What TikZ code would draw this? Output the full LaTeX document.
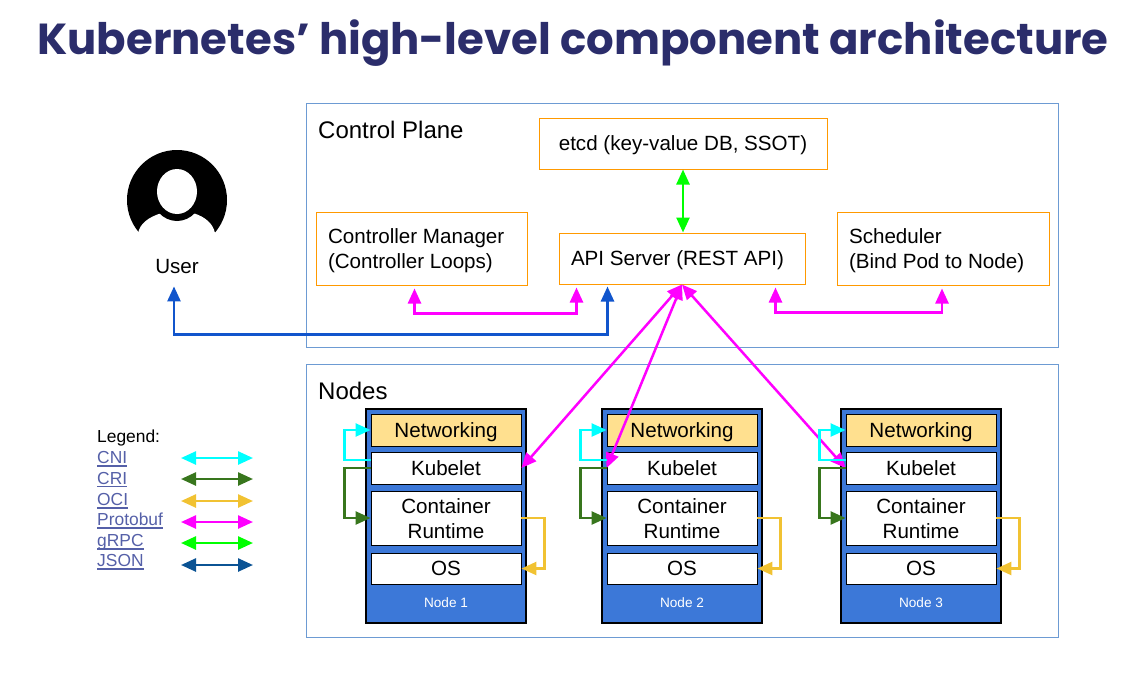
\documentclass[tikz,border=0pt]{standalone}
\usepackage{fontspec}
\setmainfont{Liberation Sans}
\newfontfamily\titlefont{Poppins}
\usetikzlibrary{arrows.meta}
\definecolor{titleblue}{HTML}{2B2D6B}
\definecolor{planeblue}{HTML}{6D9BD3}
\definecolor{boxorange}{HTML}{FF9900}
\definecolor{nodeblue}{HTML}{3C78D8}
\definecolor{netyellow}{HTML}{FFE08F}
\definecolor{linkblue}{HTML}{5560A8}
\definecolor{cnicyan}{HTML}{00FFFF}
\definecolor{crigreen}{HTML}{38761D}
\definecolor{ociyellow}{HTML}{F1C232}
\definecolor{protomagenta}{HTML}{FF00FF}
\definecolor{grpcgreen}{HTML}{00FF00}
\definecolor{userblue}{HTML}{1155CC}
\definecolor{jsonblue}{HTML}{0B5394}
\newcommand{\linktext}[1]{\setbox0=\hbox{#1}\rlap{\rule[-3pt]{\wd0}{1.5pt}}\box0}
\tikzset{
  plane/.style={
    % The shape:
    rectangle,minimum width=752pt,
    % The border:
    draw=planeblue,line width=1pt},
  label/.style={anchor=west,inner sep=0pt,font=\fontsize{24}{28}\selectfont},
  cpbox/.style={
    rectangle,draw=boxorange,line width=1pt,fill=white,
    inner xsep=12pt,inner ysep=0pt,minimum height=51pt,
    font=\fontsize{20.6}{25}\selectfont},
  twoline/.style={text width=#1,align=flush left,minimum height=73pt},
  oneline/.style={text height=13pt,text depth=0pt},
  worker/.style={
    rectangle,draw=black,line width=1.3pt,fill=nodeblue,
    minimum width=160pt,minimum height=214pt},
  stage/.style={
    rectangle,draw=black,line width=0.9pt,fill=white,inner sep=0pt,
    minimum width=150pt,align=center,
    font=\fontsize{20.6}{25}\selectfont},
  nodename/.style={inner sep=0pt,text=white,font=\fontsize{13.6}{16}\selectfont},
  legendname/.style={anchor=west,inner sep=0pt,text height=12.5pt,text depth=0pt,font=\fontsize{17.4}{20}\selectfont},
  legendlink/.style={legendname,text=linkblue},
  conn/.style={line width=2.5pt,{Triangle[length=15pt,width=13pt]}-{Triangle[length=15pt,width=13pt]}},
  oneway/.style={line width=2.5pt,-{Triangle[length=15pt,width=13pt]}}
}

\begin{document}
\begin{tikzpicture}[x=1pt,y=-1pt]
	\useasboundingbox (0,0) rectangle (1134,683);
	\node[inner sep=0pt,text=titleblue,font=\titlefont\bfseries\fontsize{43.4}{50}\selectfont] (title) at (573,43) {Kubernetes’ high-level component architecture};
	% User
	\fill (177,200) circle (50);
	\fill[white] (138,233) .. controls (140,224) and (148,217) .. (162,213) -- (193,213) .. controls (206,217) and (213,224) .. (215,233) -- (220,255) -- (133,255) -- cycle;
	\fill (177,192) ellipse (26 and 29);
	\fill[white] (177,191.5) ellipse (20 and 22.5);
	\node[inner sep=0pt,font=\fontsize{20.6}{25}\selectfont] (user) at (177,267) {User};
	% Control plane
	\node[plane,minimum height=244pt] (cp) at (682,225) {};
	\node[label] (cplabel) at (318,130) {Control Plane};
	\node[cpbox,oneline,minimum width=288pt] (etcd) at (683,143.5) {etcd (key-value DB, SSOT)};
	\node[cpbox,twoline=187pt] (ctrl) at (421.5,248.5) {\rule{0pt}{19pt}Controller Manager\\(Controller Loops)};
	\node[cpbox,oneline,text width=222pt,align=flush left] (api) at (682,258.5) {API Server (REST API)};
	\node[cpbox,twoline=188pt] (sched) at (943,248.5) {\rule{0pt}{19pt}Scheduler\\(Bind Pod to Node)};
	% Nodes
	\node[plane,minimum height=273pt] (nodes) at (682,500.5) {};
	\node[label] (nodeslabel) at (318,391) {Nodes};
	% Node 1
	\node[worker] (w1) at (446,516) {};
	\node[stage,fill=netyellow,text depth=0pt,minimum height=32pt] (net1) at (446,430) {Networking};
	\node[stage,minimum height=32pt] (kub1) at (446,468) {Kubelet};
	\node[stage,minimum height=54pt] (crt1) at (446,518) {\rule{0pt}{17pt}Container\\Runtime};
	\node[stage,minimum height=31pt] (os1) at (446,568.5) {OS};
	\node[nodename] (name1) at (446,603) {Node 1};
	% Node 2
	\node[worker] (w2) at (682,516) {};
	\node[stage,fill=netyellow,text depth=0pt,minimum height=32pt] (net2) at (682,430) {Networking};
	\node[stage,minimum height=32pt] (kub2) at (682,468) {Kubelet};
	\node[stage,minimum height=54pt] (crt2) at (682,518) {\rule{0pt}{17pt}Container\\Runtime};
	\node[stage,minimum height=31pt] (os2) at (682,568.5) {OS};
	\node[nodename] (name2) at (682,603) {Node 2};
	% Node 3
	\node[worker] (w3) at (921,516) {};
	\node[stage,fill=netyellow,text depth=0pt,minimum height=32pt] (net3) at (921,430) {Networking};
	\node[stage,minimum height=32pt] (kub3) at (921,468) {Kubelet};
	\node[stage,minimum height=54pt] (crt3) at (921,518) {\rule{0pt}{17pt}Container\\Runtime};
	\node[stage,minimum height=31pt] (os3) at (921,568.5) {OS};
	\node[nodename] (name3) at (921,603) {Node 3};
	% Lines inside the control plane
	\draw[conn,grpcgreen] (etcd.south) -- (etcd.south|-api.north);
	\draw[conn,protomagenta] ([xshift=-7pt,yshift=-3pt]ctrl.south) -- ++(0,25) -| ([xshift=18pt,yshift=-3pt]api.south west);
	\draw[conn,protomagenta] ([xshift=-30pt,yshift=-3pt]api.south east) -- ++(0,25) -| ([xshift=-1pt,yshift=-3pt]sched.south);
	\draw[conn,userblue] (user.south) ++(-3,12) -- ++(0,48) -| ([xshift=49pt,yshift=-2pt]api.south west);
	% Lines out of the API server
	\draw[conn,protomagenta] (api.south) -- (kub1.east);
	\draw[conn,protomagenta] (api.south) -- (kub2.west);
	\draw[conn,protomagenta] (api.south) -- (kub3.west);
	% Lines out of kubelet
	\draw[oneway,cnicyan] ([yshift=8pt]kub1.west) -- ++(-26,0) |- (net1.west);
	\draw[oneway,cnicyan] ([yshift=8pt]kub2.west) -- ++(-26,0) |- (net2.west);
	\draw[oneway,cnicyan] ([yshift=8pt]kub3.west) -- ++(-26,0) |- (net3.west);
	\draw[oneway,crigreen] (kub1.west) -- ++(-26,0) |- (crt1.west);
	\draw[oneway,crigreen] (kub2.west) -- ++(-26,0) |- (crt2.west);
	\draw[oneway,crigreen] (kub3.west) -- ++(-26,0) |- (crt3.west);
	% Lines out of container runtime
	\draw[oneway,ociyellow] (crt1.east) -- ++(23,0) |- (os1.east);
	\draw[oneway,ociyellow] (crt2.east) -- ++(23,0) |- (os2.east);
	\draw[oneway,ociyellow] (crt3.east) -- ++(23,0) |- (os3.east);
	% Legend
	\node[legendname] (legend) at (97,436.5) {Legend:};
	\node[legendlink] (cni) at (97,457.25) {\linktext{CNI}};
	\node[legendlink] (cri) at (97,477.75) {\linktext{CRI}};
	\node[legendlink] (oci) at (97,499.25) {\linktext{OCI}};
	\node[legendlink] (proto) at (97,519.5) {\linktext{Protobuf}};
	\node[legendlink] (grpc) at (97,540.5) {\linktext{gRPC}};
	\node[legendlink] (json) at (97,560.5) {\linktext{JSON}};
	\coordinate (cnia) at (181,458);
	\coordinate (cnib) at (253,458);
	\coordinate (cria) at (181,479);
	\coordinate (crib) at (253,479);
	\coordinate (ocia) at (181,501);
	\coordinate (ocib) at (253,501);
	\coordinate (protoa) at (181,522);
	\coordinate (protob) at (253,522);
	\coordinate (grpca) at (181,543);
	\coordinate (grpcb) at (253,543);
	\coordinate (jsona) at (181,565);
	\coordinate (jsonb) at (253,565);
	\draw[conn,cnicyan] (cnia) -- (cnib);
	\draw[conn,crigreen] (cria) -- (crib);
	\draw[conn,ociyellow] (ocia) -- (ocib);
	\draw[conn,protomagenta] (protoa) -- (protob);
	\draw[conn,grpcgreen] (grpca) -- (grpcb);
	\draw[conn,jsonblue] (jsona) -- (jsonb);
\end{tikzpicture}
\end{document}
